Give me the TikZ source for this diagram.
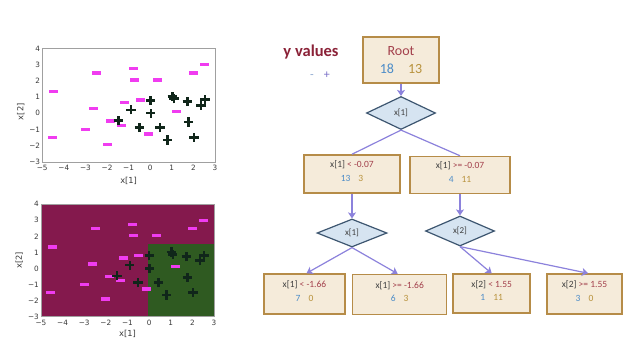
\documentclass[tikz,border=0pt]{standalone}
\usepackage{fontspec}
\setmainfont{Carlito}
\newfontfamily\axfont{DejaVu Sans}
\usetikzlibrary{shapes.geometric,arrows.meta}

\definecolor{negc}{HTML}{F03CF0}
\definecolor{posc}{HTML}{10261A}
\definecolor{regred}{HTML}{84194D}
\definecolor{reggreen}{HTML}{2F5A21}
\definecolor{framec}{HTML}{A0A0A0}
\definecolor{tickc}{HTML}{3A3A3A}
\definecolor{boxfill}{HTML}{F5EBDA}
\definecolor{boxline}{HTML}{B68C48}
\definecolor{diafill}{HTML}{D6E4F1}
\definecolor{dialine}{HTML}{3D5670}
\definecolor{arrowc}{HTML}{8C82DC}
\definecolor{txtred}{HTML}{A3404C}
\definecolor{titlered}{HTML}{8B2238}
\definecolor{txtgray}{HTML}{404040}
\definecolor{numblue}{HTML}{4C8CC8}
\definecolor{numtan}{HTML}{B8923C}
\definecolor{signblue}{HTML}{8CA8D0}
\definecolor{signpurple}{HTML}{7A70C8}

% sample points (x[1]/x[2])
\def\negdata{-4.46/1.34, -4.54/-1.48, -2.50/2.49, -2.62/0.28, -2.99/-0.99, -2.0/-1.91, -1.82/-0.48, -1.34/-0.75, -1.2/0.66, -0.78/2.75, -0.71/2.04, -0.47/0.81, -0.10/-1.28, 0.36/2.04, 1.22/0.11, 2.0/2.49, 2.5/3.0}
\def\posdata{-1.48/-0.46, -0.89/0.21, -0.51/-0.87, 0.0/0.79, 0.03/0.01, 0.45/-0.87, 0.81/-1.65, 1.02/1.03, 1.1/0.89, 1.72/0.73, 1.78/-0.54, 2.03/-1.48, 2.35/0.5, 2.54/0.83}

% tick number with a true minus sign
\newcommand\ticknum[1]{\ifnum#1<0 −\number\numexpr-#1\relax\else#1\fi}

\tikzset{
  negmark/.pic={\fill[negc] (-4.5pt,-1.7pt) rectangle (4.5pt,1.7pt);},
  posmark/.pic={\draw[posc,line width=2.7pt] (-4.6pt,0)--(4.6pt,0) (0,-4.6pt)--(0,4.6pt);},
  frame/.style={draw=framec,line width=0.8pt},
  tick/.style={font=\axfont\fontsize{7.3}{8}\selectfont,text=tickc,inner sep=0pt},
  axlabel/.style={font=\axfont\fontsize{8.3}{9}\selectfont,text=tickc,inner sep=0pt},
  box/.style={rectangle,draw=boxline,line width=1.5pt,fill=boxfill,inner sep=0pt},
  lbl/.style={align=center,inner sep=0pt,font=\fontsize{9.5}{13.5}\selectfont},
  dec/.style={diamond,draw=dialine,line width=1.2pt,fill=diafill,inner sep=0pt,
              font=\fontsize{9}{10}\selectfont,text=txtgray},
  conn/.style={draw=arrowc,line width=1.2pt},
  arr/.style={conn,-{Stealth[length=6pt,width=8pt,inset=1.5pt]}},
}

\begin{document}
\begin{tikzpicture}[x=1pt,y=-1pt]
\useasboundingbox (0,0) rectangle (623,343);
\fill[white] (0,0) rectangle (623,343);

% ---------- scatter plot ----------
\begin{scope}[shift={(150.2,113.3)},x=21.59pt,y=16.24pt]
  \draw[frame,fill=white] (-5,-3) rectangle (3,4);
  \foreach \px/\py in \negdata {\pic at (\px,\py) {negmark};}
  \foreach \px/\py in \posdata {\pic at (\px,\py) {posmark};}
  \foreach \v in {-5,...,3}
    \node[tick,anchor=north] (tx\v) at ([yshift=-2.5pt]\v,-3) {\ticknum{\v}};
  \foreach \v in {-3,...,4}
    \node[tick,anchor=east] (ty\v) at ([xshift=-2pt]-5,\v) {\ticknum{\v}};
  \node[axlabel] (xlabA) at (-1,-4.15) {x[1]};
  \node[axlabel,rotate=90] (ylabA) at (-6.0,0.1) {x[2]};
\end{scope}

% ---------- decision regions ----------
\begin{scope}[shift={(149.1,268.5)},x=21.625pt,y=16.06pt]
  \fill[regred] (-5,-3) rectangle (3,4);
  \fill[reggreen] (-0.07,-3) rectangle (3,1.55);
  \draw[frame] (-5,-3) rectangle (3,4);
  \foreach \px/\py in \negdata {\pic at (\px,\py) {negmark};}
  \foreach \px/\py in \posdata {\pic at (\px,\py) {posmark};}
  \foreach \v in {-5,...,3}
    \node[tick,anchor=north] (bx\v) at ([yshift=-3pt]\v,-3) {\ticknum{\v}};
  \foreach \v in {-3,...,4}
    \node[tick,anchor=east] (by\v) at ([xshift=-2pt]-5,\v) {\ticknum{\v}};
  \node[axlabel] (xlabB) at (-1,-4.05) {x[1]};
  \node[axlabel,rotate=90] (ylabB) at (-6.0,0.5) {x[2]};
\end{scope}

% ---------- legend ----------
\node[inner sep=0pt,font=\bfseries\fontsize{16.5}{18}\selectfont,text=titlered] (ytitle) at (311,52) {y values};
\node[inner sep=0pt,font=\fontsize{12}{13}\selectfont] (ysigns) at (320,75)
  {{\color{signblue}-}\hspace{10pt}{\color{signpurple}+}};

% ---------- tree ----------
\node[box,minimum width=76pt,minimum height=46pt] (root) at (401,60) {};
\node[inner sep=0pt,align=center,font=\fontsize{14}{18}\selectfont] (roott) at (root.center)
  {{\color{txtred}Root}\\{\color{numblue}18}\hspace{14pt}{\color{numtan}13}};

\node[dec,minimum width=69pt,minimum height=33pt] (d1) at (401,113) {x[1]};

\node[box,minimum width=96pt,minimum height=38pt] (b1) at (352,174) {};
\node[lbl] (b1t) at ([yshift=3pt]b1.center)
  {{\color{txtgray}x[1]} {\color{txtred}< -0.07}\\{\color{numblue}13}\hspace{8pt}{\color{numtan}3}};
\node[box,minimum width=100pt,minimum height=37pt] (b2) at (460,175) {};
\node[lbl] (b2t) at ([yshift=3pt]b2.center)
  {{\color{txtgray}x[1]} {\color{txtred}>= -0.07}\\{\color{numblue}4}\hspace{8pt}{\color{numtan}11}};

\node[dec,minimum width=70pt,minimum height=28pt] (d2) at (352,233) {x[1]};
\node[dec,minimum width=69pt,minimum height=30pt] (d3) at (460,231) {x[2]};

\node[box,minimum width=81pt,minimum height=40pt] (b3) at (304.5,294) {};
\node[lbl] (b3t) at ([yshift=3pt]b3.center)
  {{\color{txtgray}x[1]} {\color{txtred}< -1.66}\\{\color{numblue}7}\hspace{8pt}{\color{numtan}0}};
\node[box,minimum width=94pt,minimum height=40pt] (b4) at (399.7,294.5) {};
\node[lbl] (b4t) at ([yshift=3pt]b4.center)
  {{\color{txtgray}x[1]} {\color{txtred}>= -1.66}\\{\color{numblue}6}\hspace{8pt}{\color{numtan}3}};
\node[box,minimum width=77pt,minimum height=39pt] (b5) at (491.7,293.7) {};
\node[lbl] (b5t) at ([yshift=3pt]b5.center)
  {{\color{txtgray}x[2]} {\color{txtred}< 1.55}\\{\color{numblue}1}\hspace{8pt}{\color{numtan}11}};
\node[box,minimum width=75pt,minimum height=40pt] (b6) at (584.5,294) {};
\node[lbl] (b6t) at ([yshift=3pt]b6.center)
  {{\color{txtgray}x[2]} {\color{txtred}>= 1.55}\\{\color{numblue}3}\hspace{8pt}{\color{numtan}0}};

% connectors
\draw[arr] (root.south) -- (d1.north);
\draw[conn] (d1.south) -- (b1.north);
\draw[conn] (d1.south) -- (b2.north);
\draw[arr] (b1.south) -- (d2.north);
\draw[arr] (b2.south) -- (d3.north);
\draw[arr] (d2.south) -- ([xshift=2pt]b3.north);
\draw[arr] (d2.south) -- ([xshift=-2pt]b4.north);
\draw[arr] (d3.south) -- (b5.north);
\draw[arr] (d3.south) -- ([xshift=3.5pt]b6.north);
\end{tikzpicture}
\end{document}
